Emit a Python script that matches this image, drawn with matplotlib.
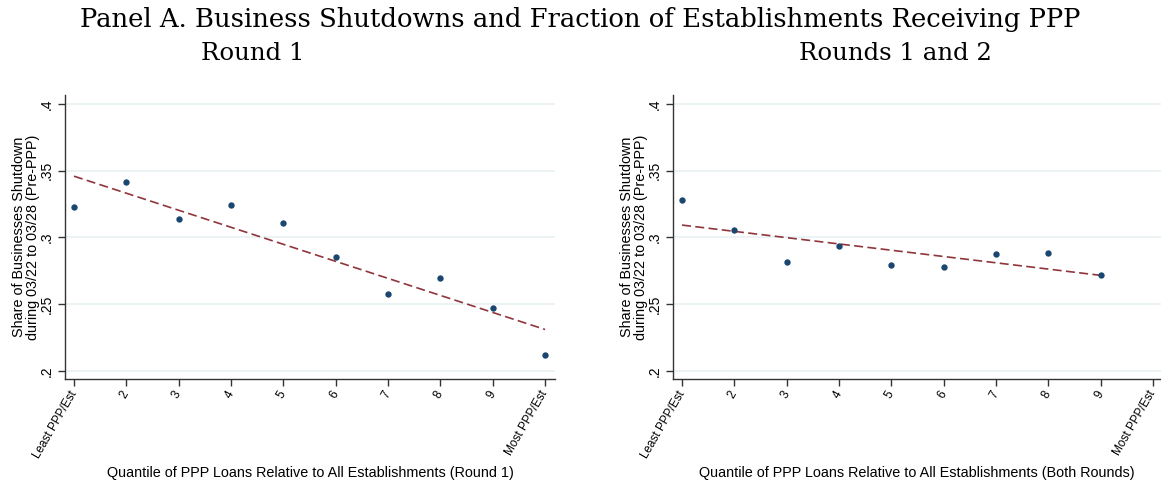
import numpy as np
import matplotlib
matplotlib.use("Agg")
import matplotlib.pyplot as plt

# Quantile positions and shutdown shares
quantiles_r1 = [1, 2, 3, 4, 5, 6, 7, 8, 9, 10]
share_r1 = [0.3226, 0.3415, 0.3138, 0.3245, 0.3110, 0.2850, 0.2578, 0.2695, 0.2468, 0.2118]

quantiles_both = [1, 2, 3, 4, 5, 6, 7, 8, 9]
share_both = [0.3283, 0.3055, 0.2818, 0.2933, 0.2795, 0.2776, 0.2878, 0.2880, 0.2716]

xtick_pos = [1, 2, 3, 4, 5, 6, 7, 8, 9, 10]
xtick_labels = ["Least PPP/Est", "2", "3", "4", "5", "6", "7", "8", "9", "Most PPP/Est"]
ytick_pos = [0.2, 0.25, 0.3, 0.35, 0.4]
ytick_labels = [".2", ".25", ".3", ".35", ".4"]

main_title = "Panel A. Business Shutdowns and Fraction of Establishments Receiving PPP"
sub_titles = ["Round 1", "Rounds 1 and 2"]
xlabels = ["Quantile of PPP Loans Relative to All Establishments (Round 1)",
           "Quantile of PPP Loans Relative to All Establishments (Both Rounds)"]
ylabel = "Share of Businesses Shutdown\nduring 03/22 to 03/28 (Pre-PPP)"

W, H = 1161, 487
plt.rcParams["font.family"] = ["Liberation Sans", "DejaVu Sans"]

fig = plt.figure(figsize=(W / 100, H / 100), dpi=100)
fig.patch.set_facecolor("white")

NAVY = "#1a476f"
MAROON = "#90353b"
GRID = "#eaf2f3"
AXC = "#333333"


def px_axes(x0, x1, y0, y1):
    return fig.add_axes([x0 / W, 1 - y1 / H, (x1 - x0) / W, (y1 - y0) / H])


panels = [
    (px_axes(65, 555, 95, 379), quantiles_r1, share_r1, (0.828, 10.19), xlabels[0]),
    (px_axes(672.7, 1161, 95, 379), quantiles_both, share_both, (0.822, 10.15), xlabels[1]),
]

for ax, xq, ys, xlim, xl in panels:
    ax.set_xlim(*xlim)
    ax.set_ylim(0.1938, 0.4068)
    ax.set_yticks(ytick_pos)
    ax.set_yticklabels(ytick_labels, rotation=90, va="center", fontsize=10)
    ax.set_xticks(xtick_pos)
    ax.set_xticklabels(xtick_labels, rotation=60, ha="right", va="center",
                       rotation_mode="anchor", fontsize=8.5)
    for s in ["top", "right"]:
        ax.spines[s].set_visible(False)
    for s in ["left", "bottom"]:
        ax.spines[s].set_color(AXC)
        ax.spines[s].set_linewidth(1.0)
    ax.tick_params(axis="both", direction="out", length=5, width=1.0, color=AXC, pad=3)
    ax.tick_params(axis="x", pad=4)
    ax.yaxis.grid(True, color=GRID, linewidth=1.3)
    ax.set_axisbelow(True)

    # scatter of bin means
    ax.scatter(xq, ys, s=21, color=NAVY, zorder=3, linewidths=0)
    # linear fit through the bins
    coef = np.polyfit(xq, ys, 1)
    xx = np.array([min(xq), max(xq)])
    ax.plot(xx, np.polyval(coef, xx), color=MAROON, lw=1.2, dashes=(5.4, 2.6), zorder=2)

    ax.set_xlabel(xl, fontsize=10.4)
    ax.xaxis.set_label_coords(0.5, -0.331)
    ax.xaxis.label.set_va("center")
    ax.set_ylabel(ylabel, fontsize=10.4, linespacing=1.0)
    ax.yaxis.set_label_coords(-0.08, 0.5)
    ax.yaxis.label.set_va("center")

fig.text(580 / W, 1 - 19 / H, main_title, ha="center", va="center",
         family="DejaVu Serif", fontsize=18.6)
fig.text(253 / W, 1 - 53 / H, sub_titles[0], ha="center", va="center",
         family="DejaVu Serif", fontsize=17.6)
fig.text(895 / W, 1 - 53 / H, sub_titles[1], ha="center", va="center",
         family="DejaVu Serif", fontsize=17.6)

fig.savefig("out.png", dpi=100)
